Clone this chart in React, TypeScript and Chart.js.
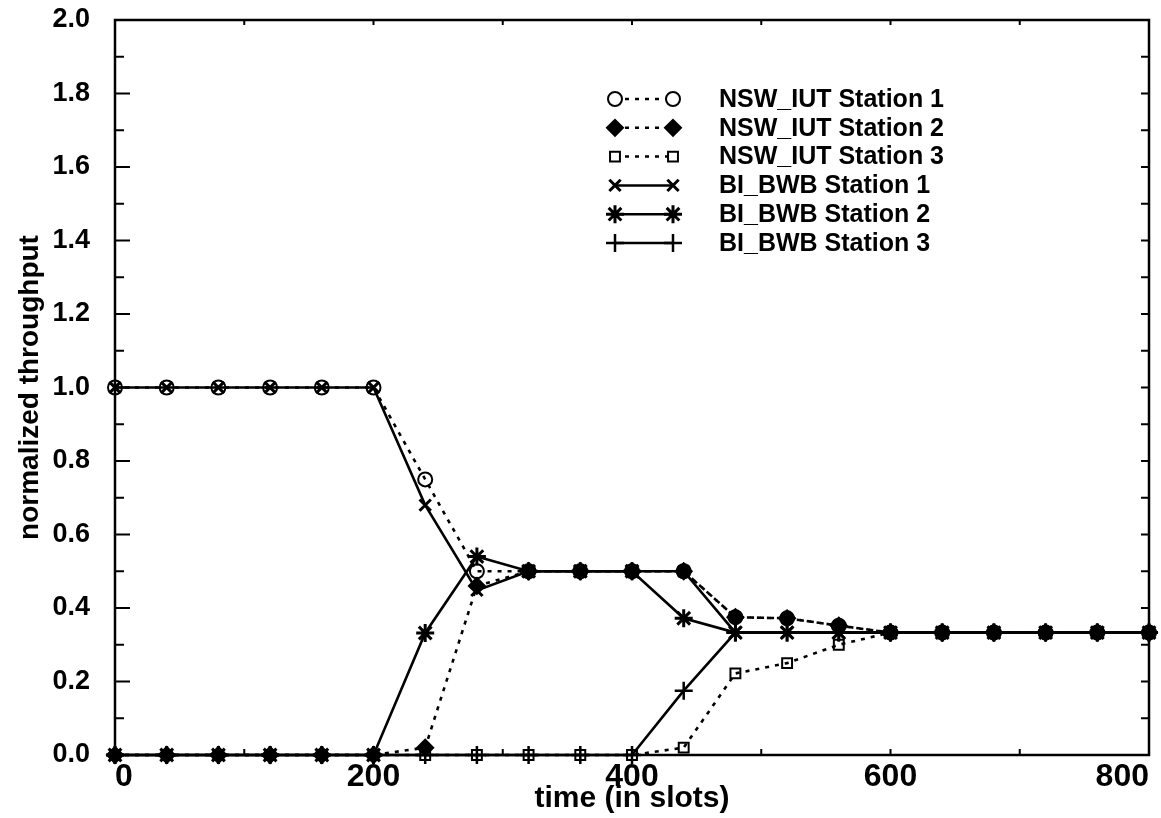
import React, { useEffect, useRef } from 'react';
import { Chart, registerables } from 'chart.js';
import { drawPoint } from 'chart.js/helpers';

Chart.register(...registerables);

// ---- data ----
const timeSlots = [0, 40, 80, 120, 160, 200, 240, 280, 320, 360, 400, 440, 480, 520, 560, 600, 640, 680, 720, 760, 800];
const nswStation1 = [1, 1, 1, 1, 1, 1, 0.75, 0.5, 0.5, 0.5, 0.5, 0.5, 0.375, 0.372, 0.352, 0.333, 0.333, 0.333, 0.333, 0.333, 0.333];
const nswStation2 = [0, 0, 0, 0, 0, 0, 0.02, 0.46, 0.5, 0.5, 0.5, 0.5, 0.375, 0.372, 0.352, 0.333, 0.333, 0.333, 0.333, 0.333, 0.333];
const nswStation3 = [0, 0, 0, 0, 0, 0, 0, 0, 0, 0, 0, 0.02, 0.222, 0.25, 0.3, 0.333, 0.333, 0.333, 0.333, 0.333, 0.333];
const biStation1 = [1, 1, 1, 1, 1, 1, 0.68, 0.448, 0.5, 0.5, 0.5, 0.5, 0.333, 0.333, 0.333, 0.333, 0.333, 0.333, 0.333, 0.333, 0.333];
const biStation2 = [0, 0, 0, 0, 0, 0, 0.332, 0.54, 0.5, 0.5, 0.5, 0.372, 0.333, 0.333, 0.333, 0.333, 0.333, 0.333, 0.333, 0.333, 0.333];
const biStation3 = [0, 0, 0, 0, 0, 0, 0, 0, 0, 0, 0, 0.175, 0.333, 0.333, 0.333, 0.333, 0.333, 0.333, 0.333, 0.333, 0.333];

const seriesLabels = [
  'NSW_IUT Station 1',
  'NSW_IUT Station 2',
  'NSW_IUT Station 3',
  'BI_BWB Station 1',
  'BI_BWB Station 2',
  'BI_BWB Station 3',
];

const xTickValues = [0, 200, 400, 600, 800];
const xMinorTickValues = [100, 300, 500, 700];
const yTickValues = [0, 0.2, 0.4, 0.6, 0.8, 1.0, 1.2, 1.4, 1.6, 1.8, 2.0];
const yMinorTickValues = [0.1, 0.3, 0.5, 0.7, 0.9, 1.1, 1.3, 1.5, 1.7, 1.9];

const xTitle = 'time (in slots)';
const yTitle = 'normalized throughput';

// ---- styling ----
const FONT = "'Liberation Sans', Arial, Helvetica, sans-serif";
const BLACK = '#000000';
const CLEAR = 'rgba(255,255,255,0)';
const DOTTED = [4, 6];

const makeSeries = (
  label: string,
  values: number[],
  dashed: boolean,
  pointStyle: string,
  radius: number,
  pointBorderWidth: number,
  fill: string,
  order: number
) => ({
  label,
  data: timeSlots.map((t, i) => ({ x: t, y: values[i] })),
  borderColor: BLACK,
  backgroundColor: fill,
  borderWidth: 2.6,
  borderDash: dashed ? DOTTED : [],
  pointStyle,
  pointRadius: radius,
  pointBorderWidth,
  pointBackgroundColor: fill,
  pointBorderColor: BLACK,
  tension: 0,
  order,
  clip: false as any,
});

const framePlugin = {
  id: 'frameTicks',
  beforeDatasetsDraw(chart: any) {
    const { ctx, chartArea } = chart;
    const { left, right, top, bottom } = chartArea;
    const xs = chart.scales.x;
    const ys = chart.scales.y;
    ctx.save();
    ctx.strokeStyle = BLACK;
    ctx.lineWidth = 2.5;
    ctx.strokeRect(left, top, right - left, bottom - top);
    ctx.lineWidth = 2;
    ctx.beginPath();
    yTickValues.forEach((v) => {
      if (v <= 0 || v >= 2) return;
      const py = ys.getPixelForValue(v);
      ctx.moveTo(left, py);
      ctx.lineTo(left + 15, py);
      ctx.moveTo(right, py);
      ctx.lineTo(right - 8, py);
    });
    yMinorTickValues.forEach((v) => {
      const py = ys.getPixelForValue(v);
      ctx.moveTo(left, py);
      ctx.lineTo(left + 9, py);
      ctx.moveTo(right, py);
      ctx.lineTo(right - 8, py);
    });
    [...xTickValues, ...xMinorTickValues].forEach((v) => {
      if (v <= 0 || v >= 800) return;
      const px = xs.getPixelForValue(v);
      ctx.moveTo(px, bottom);
      ctx.lineTo(px, bottom - 6);
      ctx.moveTo(px, top);
      ctx.lineTo(px, top + 5);
    });
    ctx.stroke();
    ctx.restore();
  },
};

const LEGEND_X0 = 615;
const LEGEND_X1 = 673;
const LEGEND_TEXT_X = 719;
const LEGEND_TOP = 99;
const LEGEND_ROW = 28.8;

const legendPlugin = {
  id: 'lineLegend',
  afterDraw(chart: any) {
    const { ctx } = chart;
    chart.data.datasets.forEach((ds: any, i: number) => {
      const y = LEGEND_TOP + i * LEGEND_ROW;
      ctx.save();
      ctx.strokeStyle = BLACK;
      ctx.lineWidth = 2.5;
      ctx.setLineDash(ds.borderDash || []);
      ctx.beginPath();
      ctx.moveTo(LEGEND_X0, y);
      ctx.lineTo(LEGEND_X1, y);
      ctx.stroke();
      ctx.setLineDash([]);
      ctx.fillStyle = ds.pointBackgroundColor === CLEAR ? '#ffffff' : ds.pointBackgroundColor;
      ctx.strokeStyle = BLACK;
      ctx.lineWidth = ds.pointBorderWidth;
      const opts = { pointStyle: ds.pointStyle, radius: ds.pointRadius, borderWidth: ds.pointBorderWidth, rotation: 0 };
      drawPoint(ctx, opts as any, LEGEND_X0, y);
      drawPoint(ctx, opts as any, LEGEND_X1, y);
      ctx.fillStyle = BLACK;
      ctx.font = `bold 25px ${FONT}`;
      ctx.textAlign = 'left';
      ctx.textBaseline = 'middle';
      ctx.fillText(ds.label, LEGEND_TEXT_X, y + 1);
      ctx.restore();
    });
  },
};

export default function App() {
  const canvasRef = useRef<HTMLCanvasElement | null>(null);

  useEffect(() => {
    if (!canvasRef.current) return;
    const datasets = [
      makeSeries(seriesLabels[0], nswStation1, true, 'circle', 7, 2, CLEAR, 1),
      makeSeries(seriesLabels[1], nswStation2, true, 'rectRot', 8, 2, BLACK, 1),
      makeSeries(seriesLabels[2], nswStation3, true, 'rect', 7, 2, CLEAR, 1),
      makeSeries(seriesLabels[3], biStation1, false, 'crossRot', 8, 3, BLACK, 0),
      makeSeries(seriesLabels[4], biStation2, false, 'star', 9, 3, BLACK, 0),
      makeSeries(seriesLabels[5], biStation3, false, 'cross', 9, 2.5, BLACK, 0),
    ];

    const chart = new Chart(canvasRef.current, {
      type: 'line',
      data: { datasets: datasets as any },
      plugins: [framePlugin, legendPlugin],
      options: {
        responsive: false,
        animation: false,
        devicePixelRatio: 1,
        layout: { padding: { top: 20, right: 4, left: 0, bottom: 0 } },
        plugins: {
          legend: { display: false },
          tooltip: { enabled: false },
        },
        scales: {
          x: {
            type: 'linear',
            min: 0,
            max: 800,
            afterBuildTicks: (s: any) => {
              s.ticks = xTickValues.map((value) => ({ value }));
            },
            afterFit: (s: any) => {
              s.height = 63;
              s.paddingLeft = 0;
              s.paddingRight = 0;
            },
            grid: { display: false, drawTicks: false },
            border: { display: false },
            ticks: {
              align: 'inner',
              padding: 3,
              color: BLACK,
              maxRotation: 0,
              autoSkip: false,
              font: { family: FONT, size: 32, weight: 'bold' },
              callback: (v: any) => String(v),
            },
            title: {
              display: true,
              text: xTitle,
              color: BLACK,
              font: { family: FONT, size: 30, weight: 'bold' },
              padding: { top: 0, bottom: 1 },
            },
          },
          y: {
            type: 'linear',
            min: 0,
            max: 2,
            afterBuildTicks: (s: any) => {
              s.ticks = yTickValues.map((value) => ({ value }));
            },
            afterFit: (s: any) => {
              s.width = 115;
              s.paddingTop = 0;
              s.paddingBottom = 0;
            },
            grid: { display: false, drawTicks: false },
            border: { display: false },
            ticks: {
              padding: 25,
              color: BLACK,
              autoSkip: false,
              font: { family: FONT, size: 27, weight: 'bold' },
              callback: (v: any) => Number(v).toFixed(1),
            },
            title: {
              display: true,
              text: yTitle,
              color: BLACK,
              font: { family: FONT, size: 28, weight: 'bold' },
              padding: { top: 13, bottom: 0 },
            },
          },
        },
      } as any,
    });
    return () => chart.destroy();
  }, []);

  return (
    <div style={{ position: 'absolute', left: 0, top: 0, width: 1161, height: 818, background: '#ffffff' }}>
      <canvas ref={canvasRef} width={1161} height={818} style={{ display: 'block', width: 1161, height: 818 }} />
    </div>
  );
}
